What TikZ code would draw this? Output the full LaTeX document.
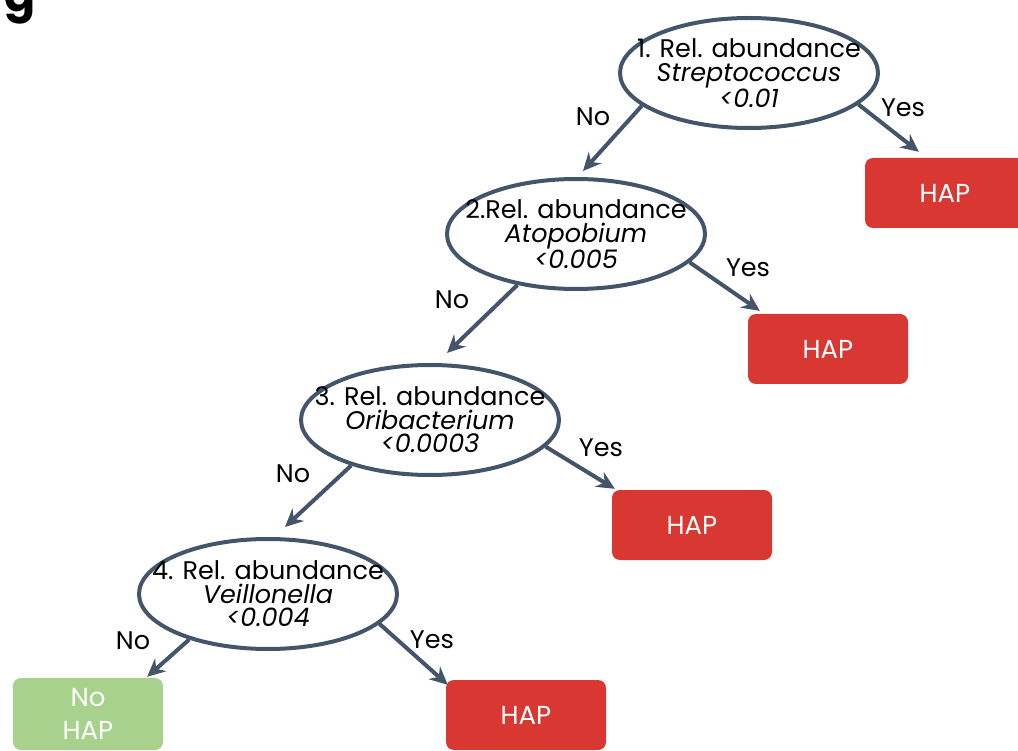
\documentclass[tikz,border=0pt]{standalone}
\usepackage{fontspec}
\setmainfont{Poppins}
\usetikzlibrary{arrows.meta,shapes.geometric}
\definecolor{TreeEdge}{RGB}{68,84,106}
\definecolor{TreeRed}{RGB}{217,56,50}
\definecolor{TreeGreen}{RGB}{169,209,142}

\begin{document}
\begin{tikzpicture}[x=1pt,y=-1pt,
  split/.style={ellipse,draw=TreeEdge,line width=4pt,minimum width=258pt,minimum height=110pt,inner xsep=-30pt,inner ysep=-4pt,align=center,font=\fontsize{25.5}{23.5}\selectfont},
  leaf/.style={rectangle,rounded corners=8pt,fill=#1,text=white,minimum width=160pt,minimum height=70pt,inner sep=0pt,align=center,font=\fontsize{26}{33}\selectfont},
  arr/.style={TreeEdge,line width=4pt,-{Stealth[length=18pt,width=17pt,inset=6pt]}},
  lbl/.style={font=\fontsize{25.5}{25.5}\selectfont}]
\useasboundingbox (0,0) rectangle (1018,751);
\node[anchor=base,font=\fontsize{46}{46}\selectfont\bfseries] (tag) at (20,12) {g};
% decision nodes
\foreach \n/\x/\y/\q/\g/\t in %
{1/749/73/1. Rel. abundance/Streptococcus/<0.01,
 2/576/234/2.Rel. abundance/Atopobium/<0.005,
 3/430/420/3. Rel. abundance/Oribacterium/<0.0003,
 4/268/594/4. Rel. abundance/Veillonella/<0.004} {
   \node[split] (e\n) at (\x,\y) {\q\\\textit{\g}\\\textit{\t}};
}
% leaves
\foreach \n/\x/\y in %
{1/945/193,2/828/349,3/692/525,4/526/715} {
   \node[leaf=TreeRed] (h\n) at (\x,\y) {HAP};
}
\node[leaf=TreeGreen,minimum width=150pt,minimum height=72pt] (nh) at (88,714) {No\\HAP};
% branches
\draw[arr] (e1.197) -- ([xshift=7pt,yshift=6pt]e2.north);
\draw[arr] (e1.-16) -- ([xshift=54pt,yshift=6pt]h1.north west);
\draw[arr] (e2.221) -- ([xshift=17pt,yshift=10pt]e3.north);
\draw[arr] (e2.-14) -- ([xshift=12pt,yshift=3pt]h2.north west);
\draw[arr] (e3.210) -- ([xshift=17pt,yshift=10pt]e4.north);
\draw[arr] (e3.-13) -- ([xshift=3pt,yshift=1pt]h3.north west);
\draw[arr] (e4.210) -- ([xshift=-16pt,yshift=1pt]nh.north east);
\draw[arr] (e4.-15) -- ([xshift=2pt,yshift=-5pt]h4.north west);
% answers
\foreach \i/\x/\y/\t in %
{1/593/117/No,2/903/108/Yes,3/452/300/No,4/748/268/Yes,
 5/293/474/No,6/601/448/Yes,7/133/641/No,8/432/640/Yes} {
   \node[lbl] (a\i) at (\x,\y) {\t};
}
\end{tikzpicture}
\end{document}
